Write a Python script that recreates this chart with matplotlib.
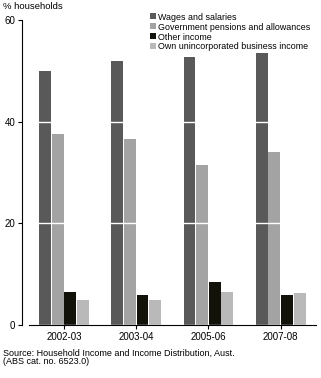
import numpy as np
import matplotlib
matplotlib.use('Agg')
import matplotlib.pyplot as plt

plt.rcParams['font.family'] = ['Liberation Sans', 'DejaVu Sans']

# data
years = ['2002-03', '2003-04', '2005-06', '2007-08']
series = ['Wages and salaries', 'Government pensions and allowances',
          'Other income', 'Own unincorporated business income']
wages = [50.0, 52.0, 52.8, 53.5]
govt = [37.5, 36.5, 31.5, 34.0]
other = [6.4, 5.9, 8.4, 5.9]
own = [5.0, 5.0, 6.4, 6.2]
colors = ['#595959', '#a3a3a3', '#12120a', '#b9b9b9']

fig = plt.figure(figsize=(3.21, 3.78), dpi=100)
ax = fig.add_axes([0.0903, 0.1402, 0.8941, 0.8068])

x = np.arange(len(years))
step, width = 0.175, 0.165
for k, (vals, lab) in enumerate(zip([wages, govt, other, own], series)):
    ax.bar(x + (k - 1.5) * step, vals, width, color=colors[k], label=lab, zorder=2)

ax.set_xlim(-0.485, 3.49)
ax.set_ylim(0, 60)
ax.set_yticks([0, 20, 40, 60])
ax.set_xticks(x)
ax.set_xticklabels(years)
ax.tick_params(axis='both', labelsize=7, length=3, width=0.8, direction='out', pad=2)
ax.yaxis.grid(True, color='white', linewidth=1.0, zorder=3)
ax.set_axisbelow(False)

for s in ['top', 'right']:
    ax.spines[s].set_visible(False)
ax.spines['left'].set_position(('outward', 5))
ax.spines['left'].set_linewidth(0.8)
ax.spines['bottom'].set_linewidth(0.8)

fig.text(0.01, 0.984, '% households', fontsize=6.8, va='center', ha='left')

leg = fig.legend(loc='upper left', bbox_to_anchor=(0.452, 0.978), fontsize=6.4,
                 frameon=False, handlelength=0.5, handleheight=0.5,
                 handletextpad=0.45, labelspacing=0.1, borderpad=0.0)
for h in leg.legend_handles:
    h.set_width(4.5)
    h.set_height(4.5)

fig.text(0.01, 0.066, 'Source: Household Income and Income Distribution, Aust.',
         fontsize=6.5, va='center', ha='left')
fig.text(0.01, 0.043, '(ABS cat. no. 6523.0)', fontsize=6.5, va='center', ha='left')

fig.savefig('out.png', dpi=100)
